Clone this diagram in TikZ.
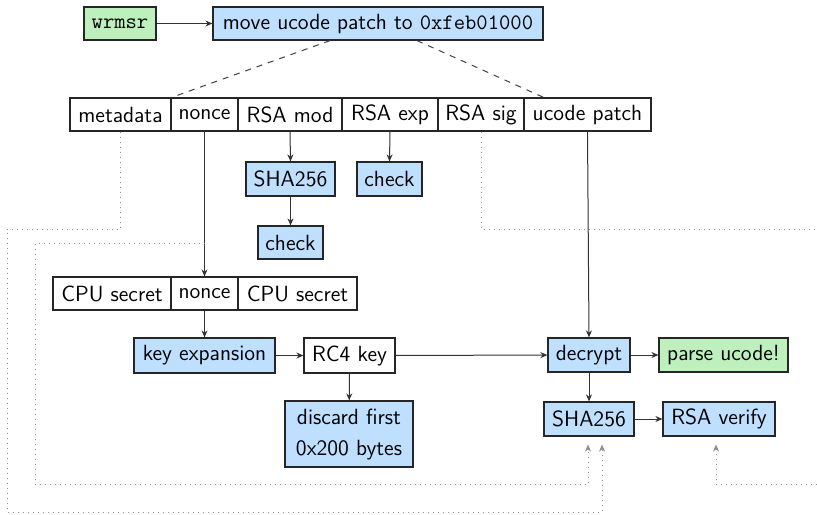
\documentclass[tikz,border=0pt]{standalone}
\usetikzlibrary{arrows.meta}
\definecolor{boxblue}{HTML}{BFDFFF}
\definecolor{boxgreen}{HTML}{BDF0BD}
\tikzset{
  base/.style={draw=black!85, line width=0.6pt, inner sep=0pt, minimum height=16.5pt,
    font=\sffamily\fontsize{11}{13}\selectfont},
  plainbox/.style={base, fill=white},
  bluebox/.style={base, fill=boxblue},
  greenbox/.style={base, fill=boxgreen},
  flow/.style={draw=black!80, line width=0.5pt, -{Stealth[length=3.5pt,width=3pt]}},
  dotline/.style={draw=black!45, line width=0.5pt, dotted},
  link/.style={dotline, -{Stealth[length=3.5pt,width=3pt]}, shorten >=4pt},
}
\begin{document}
\begin{tikzpicture}[x=0.5pt,y=-0.5pt]
\useasboundingbox (0,0) rectangle (817,514);

% instruction and patch load
\node[greenbox, minimum width=36pt, font={\ttfamily\fontsize{11}{13}\selectfont}] (wrmsr) at (120,23.5) {wrmsr};
\node[bluebox, minimum width=165pt] (move) at (378,23.5) {move ucode patch to \texttt{0xfeb01000}};

% patch layout
\node[plainbox, minimum width=50.5pt] (meta) at (120.5,114.5) {metadata};
\node[plainbox, minimum width=33.5pt] (nonce) at (204.5,114.5) {nonce};
\node[plainbox, minimum width=52pt] (rsamod) at (290,114.5) {RSA mod};
\node[plainbox, minimum width=48pt] (rsaexp) at (390,114.5) {RSA exp};
\node[plainbox, minimum width=43pt] (rsasig) at (481,114.5) {RSA sig};
\node[plainbox, minimum width=63.5pt] (ucode) at (587.5,114.5) {ucode patch};

% public key checks
\node[bluebox, minimum width=44.5pt, minimum height=17pt] (shamod) at (290.5,179) {SHA256};
\node[bluebox, minimum width=32.5pt, minimum height=17pt] (checkexp) at (389.5,179) {check};
\node[bluebox, minimum width=32.5pt] (checkmod) at (290.5,242.5) {check};

% key material
\node[plainbox, minimum width=59pt] (secretl) at (112,293.5) {CPU secret};
\node[plainbox, minimum width=33.5pt] (noncekey) at (204.5,293.5) {nonce};
\node[plainbox, minimum width=59.5pt] (secretr) at (297.5,293.5) {CPU secret};

\node[bluebox, minimum width=70.5pt, minimum height=17.5pt] (keyexp) at (204.5,355.5) {key expansion};
\node[plainbox, minimum width=45.5pt, minimum height=17.5pt] (rc4) at (349.5,355.5) {RC4 key};
\node[bluebox, minimum width=64pt, minimum height=33pt, align=center,
  font=\sffamily\fontsize{11}{15.5}\selectfont] (discard) at (349,434) {discard first\\0x200 bytes};

% decryption and verification
\node[bluebox, minimum width=41pt, minimum height=17pt] (decrypt) at (589,355) {decrypt};
\node[greenbox, minimum width=64.5pt, minimum height=17pt] (parse) at (723.5,355) {parse ucode!};
\node[bluebox, minimum width=45pt, minimum height=17pt] (shapatch) at (589,419) {SHA256};
\node[bluebox, minimum width=56pt, minimum height=17pt] (verify) at (719,419) {RSA verify};

% layout expansion
\draw[dashed, draw=black!75, line width=0.5pt] ([xshift=-24pt]move.south) -- (meta.north east);
\draw[dashed, draw=black!75, line width=0.5pt] ([xshift=19.5pt]move.south) -- (move.south east |- ucode.north);

% data flow
\draw[flow] (wrmsr) -- (move);
\draw[flow] (nonce.south) -- (noncekey.north);
\draw[flow] (rsamod.south) -- (shamod.north);
\draw[flow] (shamod) -- (checkmod);
\draw[flow] (rsaexp.south) -- (checkexp.north);
\draw[flow] (ucode.south) -- (decrypt.north);
\draw[flow] (noncekey) -- (keyexp);
\draw[flow] (keyexp) -- (rc4);
\draw[flow] (rc4) -- (decrypt);
\draw[flow] (rc4) -- (discard);
\draw[flow] (decrypt) -- (parse);
\draw[flow] (decrypt) -- (shapatch);
\draw[flow] (shapatch) -- (verify);

% hashed and signed inputs
\coordinate (noncetap) at (204.5,243);
\coordinate (sigout) at (817,229);
\coordinate (sigin) at (817,484);
\draw[link] (meta.south) -- (120.5,229) -- (7,229) -- (7,512) -- (602,512) -- ([xshift=6.5pt]shapatch.south);
\draw[link] (noncetap) -- (35,243) -- (35,484) -- (588,484) -- ([xshift=-0.5pt]shapatch.south);
\draw[dotline] (rsasig.south) -- (481,229) -- (sigout);
\draw[link] (sigin) -- (716,484) -- ([xshift=-1.5pt]verify.south);
\end{tikzpicture}
\end{document}
